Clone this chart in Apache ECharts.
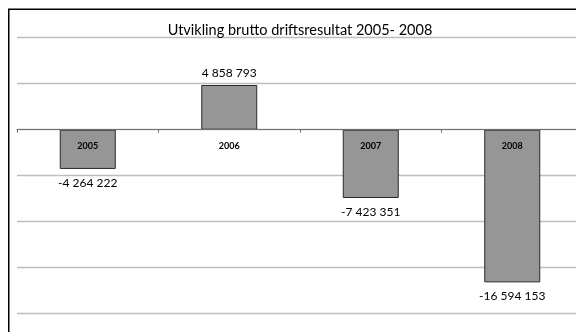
<!DOCTYPE html>
<html>
<head>
<meta charset="utf-8">
<script src="https://cdn.jsdelivr.net/npm/echarts@6/dist/echarts.min.js"></script>
<style>
  html, body { margin: 0; padding: 0; background: #fff; }
  #chart { width: 576px; height: 332px; }
</style>
</head>
<body>
<div id="chart"></div>
<script>
// Gross operating result per year (NOK)
const years = ['2005', '2006', '2007', '2008'];
const result = [-4264222, 4858793, -7423351, -16594153];
const axisMin = -20000000;
const axisMax = 10000000;
const axisStep = 5000000;
const titleText = 'Utvikling brutto driftsresultat 2005- 2008';

// Norwegian style thousands grouping: "-4 264 222"
function fmt(v) {
  const s = Math.abs(v).toString().replace(/\B(?=(\d{3})+(?!\d))/g, ' ');
  return (v < 0 ? '-' : '') + s;
}

const FONT = 'Lato';
const W = 576, H = 332;
const gridTop = 37.7, gridBottom = 18.3;
const plotH = H - gridTop - gridBottom;
// distance from the zero line down to the bottom edge of the plot,
// so the year labels can sit just under the zero line
const zeroToBottom = (0 - axisMin) / (axisMax - axisMin) * plotH;

const chart = echarts.init(document.getElementById('chart'), null, { renderer: 'canvas' });

chart.setOption({
  animation: false,
  textStyle: { fontFamily: FONT },
  title: {
    text: titleText,
    left: 300,
    textAlign: 'center',
    top: 23,
    padding: 0,
    textStyle: { fontFamily: FONT, fontSize: 14.5, fontWeight: 'normal', color: '#000' }
  },
  graphic: [{
    type: 'rect',
    z: 100,
    silent: true,
    shape: { x: 8.75, y: 9.25, width: 700, height: 500 },
    style: { fill: 'none', stroke: '#000', lineWidth: 1.5 }
  }],
  grid: {
    left: 17,
    right: -7,
    top: gridTop,
    bottom: gridBottom,
    containLabel: false,
    outerBoundsMode: 'none'
  },
  xAxis: {
    type: 'category',
    data: years,
    z: 3,
    axisLine: { onZero: true, lineStyle: { color: '#6e6e6e', width: 1 } },
    axisTick: { show: true, length: 3, lineStyle: { color: '#6e6e6e' } },
    axisLabel: {
      fontFamily: FONT, fontSize: 9, fontWeight: 'bold', color: '#000',
      margin: 12 - zeroToBottom
    }
  },
  yAxis: {
    type: 'value',
    min: axisMin,
    max: axisMax,
    interval: axisStep,
    z: 0,
    axisLine: { show: false },
    axisTick: { show: false },
    axisLabel: { show: false },
    splitLine: { lineStyle: { color: '#bdbdbd', width: 1.3 } }
  },
  series: [{
    type: 'bar',
    barWidth: 56,
    z: 2,
    itemStyle: { color: '#969696', borderColor: '#2a2a2a', borderWidth: 1 },
    label: {
      show: true,
      fontFamily: FONT,
      fontSize: 12,
      color: '#000',
      formatter: p => fmt(p.value)
    },
    data: result.map(v => ({
      value: v,
      label: { position: v < 0 ? 'bottom' : 'top', distance: v < 0 ? 8 : 6 }
    }))
  }]
});
</script>
</body>
</html>
